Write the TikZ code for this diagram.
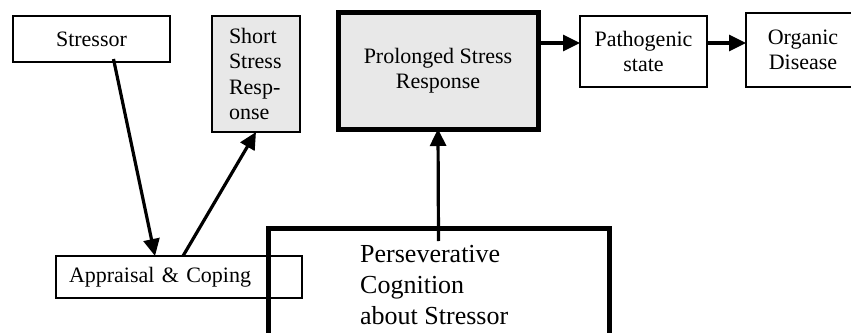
\documentclass[tikz,border=0pt]{standalone}
\usepackage{fontspec}
\setmainfont{Liberation Serif}
\usetikzlibrary{arrows.meta,calc}
\begin{document}
\begin{tikzpicture}[x=1pt,y=-1pt,
  box/.style={draw=black, line width=1.4pt, rectangle, inner sep=0pt, outer sep=0pt,
    anchor=north west, align=center, font=\fontsize{22}{25.5}\selectfont},
  heavybox/.style={box, line width=5pt},
  shaded/.style={fill=black!9},
  arr/.style={line width=3.2pt, -{Triangle[length=17pt,width=16pt]}}
]
\useasboundingbox (0,0) rectangle (851,332);
\clip (0,0) rectangle (851,332);
\fill[white] (0,0) rectangle (851,332);

\node[box, minimum width=157pt, minimum height=46pt] (stressor) at (13,16) {Stressor};
\node[box, shaded, minimum height=116pt, text width=54pt, inner xsep=17pt, align=left] (short) at (212,16) {Short\\Stress\\Resp-\\onse};
\node[heavybox, shaded, minimum width=200pt, minimum height=117pt] (prolonged) at (338,12) {Prolonged Stress\\Response};
\node[box, minimum width=127pt, minimum height=71pt] (patho) at (580,16) {Pathogenic\\state};
\node[box, minimum width=114pt, minimum height=74pt] (organic) at (746,13) {Organic\\Disease};

\node[heavybox, minimum width=341pt, minimum height=140pt] (pc) at (268,228) {};
\node[box, minimum height=42pt, text width=220pt, inner xsep=13pt, align=left] (appraisal) at (56,256) {Appraisal \& Coping};
\node[draw=none, anchor=north west, inner sep=0pt, align=left, font=\fontsize{26}{31}\selectfont] (pctext) at (360,245) {Perseverative\\Cognition\\about Stressor};

\draw[arr] ([xshift=22pt,yshift=3pt]stressor.south) -- ([xshift=-24pt]appraisal.north);
\draw[arr] ([xshift=4pt]appraisal.north) -- (short.south);
\draw[arr] ([yshift=-13pt]pc.north) -- (prolonged.south);
\draw[arr] (prolonged.east |- 0,43) -- (patho.west |- 0,43);
\draw[arr] (patho.east |- 0,43) -- (organic.west |- 0,43);
\end{tikzpicture}
\end{document}
